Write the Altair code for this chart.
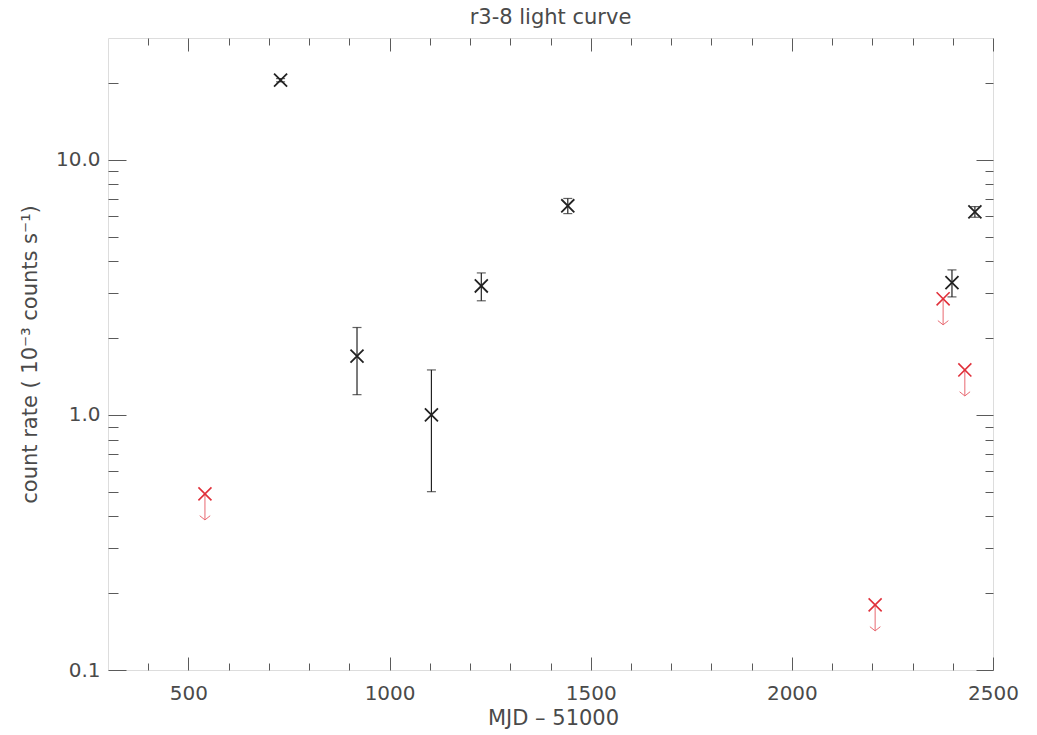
import altair as alt
import pandas as pd

# Detections: MJD - 51000, count rate (1e-3 counts/s) and 1-sigma error
det_mjd = [729, 919, 1104, 1228, 1443, 2398, 2455]
det_rate = [20.5, 1.7, 1.0, 3.2, 6.6, 3.3, 6.25]
det_err = [0.3, 0.5, 0.5, 0.4, 0.45, 0.4, 0.3]

# Non-detections: upper limits on the count rate
ul_mjd = [541, 2207, 2376, 2430]
ul_rate = [0.49, 0.18, 2.85, 1.5]

# Tick positions
x_major = [500, 1000, 1500, 2000, 2500]
x_minor = [400, 600, 700, 800, 900, 1100, 1200, 1300, 1400,
           1600, 1700, 1800, 1900, 2100, 2200, 2300, 2400]
y_major = [0.1, 1.0, 10.0]
y_minor = [0.2, 0.3, 0.4, 0.5, 0.6, 0.7, 0.8, 0.9,
           2, 3, 4, 5, 6, 7, 8, 9, 20]

det = pd.DataFrame({"mjd": det_mjd, "rate": det_rate, "err": det_err})
ul = pd.DataFrame({"mjd": ul_mjd, "rate": ul_rate})

FONT = "DejaVu Sans"
FRAME = "#5a5a5a"
TEXT = "#4a4a4a"
INK = "#222222"
RED = "#e0303a"
RED_LIGHT = "#e86870"

x_scale = alt.Scale(domain=[300, 2500], nice=False, zero=False)
y_scale = alt.Scale(type="log", domain=[0.1, 30], nice=False)

X_SHAPE = "M-1,-1L1,1M-1,1L1,-1"
CAP_SHAPE = "M-1,0L1,0"
HEAD_SHAPE = "M-1,-0.8L0,0L1,-0.8"
ARROW = 26


def tick_axis(orient, values, length):
    # inward-pointing ticks: shift the axis line into the plot by the tick length
    return alt.Axis(orient=orient, values=values, tickSize=length, offset=-length,
                    domain=False, labels=False, grid=False, title=None,
                    tickColor=FRAME, tickWidth=1)


def guide_layer(x_axis, y_axis):
    return alt.Chart(det).mark_point(opacity=0).encode(
        x=alt.X("mjd:Q", scale=x_scale, axis=x_axis),
        y=alt.Y("rate:Q", scale=y_scale, axis=y_axis),
    )


x_labels = alt.Axis(
    orient="bottom", values=x_major, format="d", ticks=False, tickSize=0, domain=False,
    grid=False, labelPadding=13, labelFlush=False, labelOverlap=False,
    labelFont=FONT, labelFontSize=20, labelColor=TEXT,
    title="MJD – 51000", titleFont=FONT, titleFontSize=21, titleFontWeight="normal",
    titleColor=TEXT, titleX=445, titleY=48, titleBaseline="middle", titleAlign="center",
)
y_labels = alt.Axis(
    orient="left", values=y_major, format=".1f", ticks=False, tickSize=0, domain=False,
    grid=False, labelPadding=8, labelFlush=False, labelOverlap=False,
    labelFont=FONT, labelFontSize=20, labelColor=TEXT,
    title="count rate ( 10⁻³ counts s⁻¹)", titleFont=FONT, titleFontSize=21,
    titleFontWeight="normal", titleColor=TEXT, titleX=-78, titleY=316,
    titleBaseline="middle", titleAlign="center",
)

guides = [
    guide_layer(x_labels, y_labels),
    guide_layer(tick_axis("bottom", x_major, 13), tick_axis("left", y_major, 18)),
    guide_layer(tick_axis("bottom", x_minor, 7), tick_axis("left", y_minor, 10)),
    guide_layer(tick_axis("top", x_major, 13), tick_axis("right", y_major, 17)),
    guide_layer(tick_axis("top", x_minor, 7), tick_axis("right", y_minor, 8)),
]

x_enc = alt.X("mjd:Q", scale=x_scale, axis=None)

err_bars = alt.Chart(det).transform_calculate(
    lo="datum.rate - datum.err", hi="datum.rate + datum.err"
).mark_rule(color=INK, strokeWidth=1.2).encode(
    x=x_enc,
    y=alt.Y("lo:Q", scale=y_scale, axis=None),
    y2="hi:Q",
)

err_caps = alt.Chart(det).transform_calculate(
    lo="datum.rate - datum.err", hi="datum.rate + datum.err"
).transform_fold(["lo", "hi"], as_=["end", "level"]).mark_point(
    shape=CAP_SHAPE, size=81, filled=False, color=INK, strokeWidth=1.2
).encode(
    x=x_enc,
    y=alt.Y("level:Q", scale=y_scale, axis=None),
)

det_marks = alt.Chart(det).mark_point(
    shape=X_SHAPE, size=170, filled=False, color=INK, strokeWidth=1.8, opacity=1
).encode(
    x=x_enc,
    y=alt.Y("rate:Q", scale=y_scale, axis=None),
)

ul_shaft = alt.Chart(ul).mark_rule(color=RED_LIGHT, strokeWidth=1, y2Offset=ARROW).encode(
    x=x_enc,
    y=alt.Y("rate:Q", scale=y_scale, axis=None),
    y2="rate:Q",
)

ul_head = alt.Chart(ul).mark_point(
    shape=HEAD_SHAPE, size=110, filled=False, color=RED_LIGHT, strokeWidth=1,
    yOffset=ARROW, opacity=1
).encode(
    x=x_enc,
    y=alt.Y("rate:Q", scale=y_scale, axis=None),
)

ul_marks = alt.Chart(ul).mark_point(
    shape=X_SHAPE, size=170, filled=False, color=RED, strokeWidth=1.6, opacity=1
).encode(
    x=x_enc,
    y=alt.Y("rate:Q", scale=y_scale, axis=None),
)

chart = alt.layer(
    *guides, err_bars, err_caps, det_marks, ul_shaft, ul_head, ul_marks
).resolve_axis(
    x="independent", y="independent"
).properties(
    width=885,
    height=632,
    title=alt.TitleParams(
        text="r3-8 light curve", font=FONT, fontSize=21, fontWeight="normal",
        color=TEXT, anchor="middle", frame="group", baseline="alphabetic",
        offset=11, dy=18,
    ),
    autosize=alt.AutoSizeParams(type="none"),
    padding={"left": 108, "top": 38, "right": 44, "bottom": 65},
).configure_view(
    stroke=FRAME, strokeWidth=1.5
).configure(background="white")

chart.save("out.html", embed_options={"renderer": "svg", "actions": False})
